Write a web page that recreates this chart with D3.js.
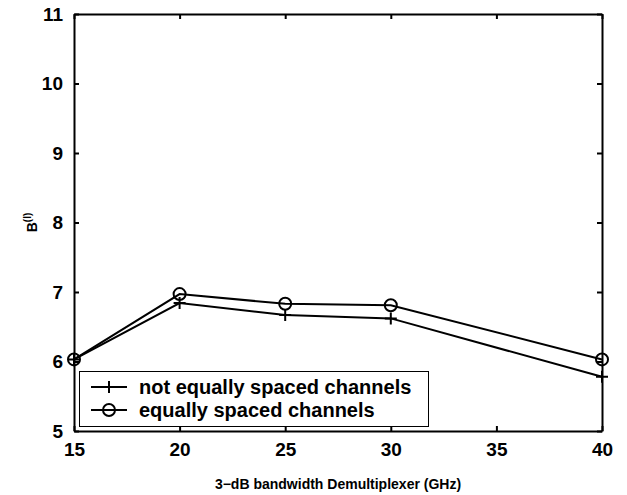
<!DOCTYPE html>
<html>
<head>
<meta charset="utf-8">
<script src="https://cdn.jsdelivr.net/npm/d3@7"></script>
<style>
  body { margin: 0; background: #fff; }
  text { font-family: "Liberation Sans", Arial, sans-serif; font-weight: bold; }
</style>
</head>
<body>
<div id="chart"></div>
<script>
// data
const bandwidth = [15, 20, 25, 30, 40];
const notEqual = [6.03, 6.84, 6.67, 6.62, 5.78];
const equal = [6.03, 6.97, 6.83, 6.81, 6.03];
const xTicks = [15, 20, 25, 30, 35, 40];
const yTicks = [5, 6, 7, 8, 9, 10, 11];

const width = 627, height = 495;
const margin = { top: 14, right: 25, bottom: 64, left: 74 };

const svg = d3.select("#chart").append("svg")
    .attr("width", width)
    .attr("height", height);

const x = d3.scaleLinear().domain([15, 40]).range([margin.left, width - margin.right]);
const y = d3.scaleLinear().domain([5, 11]).range([height - margin.bottom, margin.top]);

// axes with inward ticks on all four sides
const tick = 5;
svg.append("g")
    .attr("transform", `translate(0,${y(5)})`)
    .call(d3.axisBottom(x).tickValues(xTicks).tickFormat(d3.format("d")).tickSizeInner(-tick).tickSizeOuter(0).tickPadding(12))
    .call(g => g.selectAll("text").attr("font-size", 19).attr("fill", "#000"));
svg.append("g")
    .attr("transform", `translate(0,${y(11)})`)
    .call(d3.axisTop(x).tickValues(xTicks).tickSizeInner(-tick).tickSizeOuter(0).tickFormat(""));
svg.append("g")
    .attr("transform", `translate(${x(15)},0)`)
    .call(d3.axisLeft(y).tickValues(yTicks).tickFormat(d3.format("d")).tickSizeInner(-tick).tickSizeOuter(0).tickPadding(11))
    .call(g => g.selectAll("text").attr("font-size", 19).attr("fill", "#000"));
svg.append("g")
    .attr("transform", `translate(${x(40)},0)`)
    .call(d3.axisRight(y).tickValues(yTicks).tickSizeInner(-tick).tickSizeOuter(0).tickFormat(""));

svg.selectAll(".domain, .tick line").attr("stroke", "#000").attr("stroke-width", 2);

// axis labels
svg.append("text")
    .attr("x", (x(15) + x(40)) / 2)
    .attr("y", 489)
    .attr("text-anchor", "middle")
    .attr("font-size", 14)
    .text("3\u2212dB bandwidth Demultiplexer (GHz)");

const yl = svg.append("text")
    .attr("transform", `translate(37,${(y(5) + y(11)) / 2}) rotate(-90)`)
    .attr("text-anchor", "middle")
    .attr("font-size", 14);
yl.append("tspan").text("B");
yl.append("tspan").attr("dy", -6).attr("font-size", 10).text("(l)");

// lines
const line = d3.line().x(d => x(d[0])).y(d => y(d[1]));
const series = [
    { name: "not equally spaced channels", values: notEqual, marker: "plus" },
    { name: "equally spaced channels", values: equal, marker: "circle" }
];

function drawMarker(g, type, cx, cy) {
    if (type === "circle") {
        g.append("circle").attr("cx", cx).attr("cy", cy).attr("r", 6)
            .attr("fill", "none").attr("stroke", "#000").attr("stroke-width", 2);
    } else {
        g.append("path").attr("d", `M${cx - 6},${cy}H${cx + 6}M${cx},${cy - 6}V${cy + 6}`)
            .attr("stroke", "#000").attr("stroke-width", 2);
    }
}

series.forEach(s => {
    const pts = bandwidth.map((b, i) => [b, s.values[i]]);
    svg.append("path")
        .datum(pts)
        .attr("d", line)
        .attr("fill", "none")
        .attr("stroke", "#000")
        .attr("stroke-width", 2);
    const mg = svg.append("g");
    pts.forEach(p => drawMarker(mg, s.marker, x(p[0]), y(p[1])));
});

// legend
const lg = svg.append("g");
lg.append("rect")
    .attr("x", 79.5).attr("y", 371.5)
    .attr("width", 349).attr("height", 55)
    .attr("fill", "#fff").attr("stroke", "#000").attr("stroke-width", 1);
series.forEach((s, i) => {
    const ly = 387 + i * 23;
    lg.append("line").attr("x1", 91).attr("x2", 127).attr("y1", ly).attr("y2", ly)
        .attr("stroke", "#000").attr("stroke-width", 2);
    drawMarker(lg, s.marker, 109, ly);
    lg.append("text").attr("x", 139).attr("y", ly + 7).attr("font-size", 20).text(s.name);
});
</script>
</body>
</html>
